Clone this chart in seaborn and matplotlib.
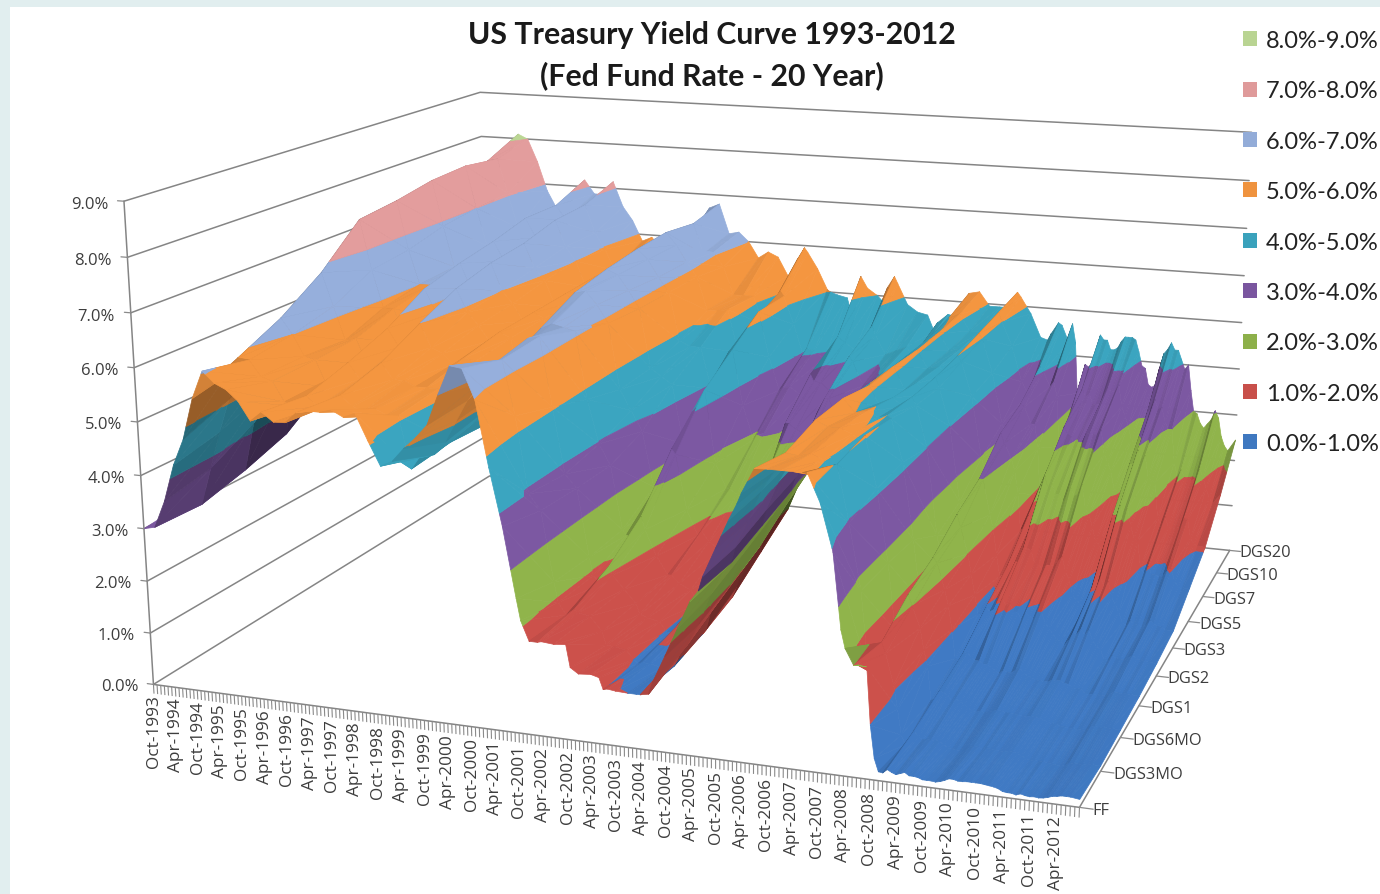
import numpy as np
import pandas as pd
import matplotlib
matplotlib.use("Agg")
import matplotlib.pyplot as plt
from matplotlib.patches import Patch, Rectangle
from mpl_toolkits.mplot3d.art3d import Poly3DCollection, Line3DCollection
import seaborn as sns

# Treasury curve by maturity, sampled quarterly from Oct-1993 (percent)
maturities = ["FF", "DGS3MO", "DGS6MO", "DGS1", "DGS2", "DGS3", "DGS5", "DGS7", "DGS10", "DGS20"]
months_since_start = list(range(0, 226, 3)) + [227]

FF = [3.00, 3.05,3.56,4.26,4.76, 5.53,6.05,5.85,5.75, 5.56,5.22,5.40,5.24, 5.25,5.45,5.50,5.50,
      5.56,5.45,5.54,5.07, 4.63,4.74,4.99,5.20, 5.45,6.02,6.54,6.51, 5.98,4.80,3.77,2.49,
      1.73,1.75,1.73,1.75, 1.24,1.26,1.01,1.01, 1.00,1.00,1.26,1.76, 2.28,2.79,3.26,3.78,
      4.29,4.79,5.24,5.25, 5.25,5.25,5.26,4.76, 3.94,2.28,2.01,0.97, 0.15,0.15,0.16,0.12,
      0.11,0.20,0.18,0.19, 0.17,0.10,0.07,0.07, 0.08,0.14,0.16,0.14]
DGS3MO = [3.10, 3.02,3.74,4.46,5.10, 5.90,5.88,5.59,5.52, 5.15,5.09,5.30,5.12, 5.17,5.37,5.19,5.11,
          5.18,5.08,5.09,4.12, 4.45,4.43,4.69,5.10, 5.50,5.82,6.14,6.29, 5.29,3.88,3.59,2.28,
          1.68,1.75,1.71,1.45, 1.19,1.15,0.92,0.95, 0.90,0.96,1.36,1.79, 2.37,2.84,3.29,3.79,
          4.34,4.72,5.08,5.05, 5.11,5.01,4.96,3.94, 2.75,1.29,1.66,0.67, 0.13,0.16,0.18,0.07,
          0.06,0.16,0.16,0.13, 0.15,0.06,0.04,0.02, 0.03,0.08,0.10,0.10]
DGS6MO = [3.20, 3.25,4.20,4.80,5.45, 6.30,6.00,5.60,5.55, 5.05,5.30,5.55,5.25, 5.25,5.60,5.30,5.30,
          5.20,5.20,5.20,4.20, 4.50,4.60,4.85,5.20, 5.75,6.00,6.30,6.35, 5.05,3.80,3.55,2.25,
          1.75,1.95,1.70,1.45, 1.20,1.15,0.95,1.05, 1.00,1.10,1.65,2.00, 2.60,3.05,3.50,4.05,
          4.45,4.85,5.25,5.15, 5.15,5.05,5.05,4.10, 2.75,1.55,2.00,1.20, 0.30,0.40,0.30,0.16,
          0.15,0.23,0.20,0.18, 0.18,0.12,0.08,0.06, 0.06,0.14,0.15,0.14]
DGS1 = [3.40, 3.55,4.90,5.30,5.90, 6.85,6.20,5.55,5.60, 5.10,5.60,5.85,5.50, 5.60,6.00,5.55,5.45,
        5.25,5.40,5.35,4.15, 4.50,4.70,5.05,5.50, 6.10,6.20,6.15,6.10, 4.80,3.95,3.55,2.30,
        2.15,2.35,1.85,1.50, 1.35,1.25,1.05,1.30, 1.25,1.40,2.10,2.25, 2.85,3.30,3.65,4.30,
        4.45,4.90,5.25,5.00, 5.05,4.95,4.95,4.15, 2.70,1.75,2.30,1.50, 0.45,0.55,0.45,0.35,
        0.35,0.45,0.30,0.25, 0.30,0.25,0.20,0.12, 0.12,0.20,0.20,0.18]
DGS2 = [3.85, 4.14,5.23,6.10,6.60, 7.60,6.60,5.85,5.85, 5.20,6.05,6.30,5.85, 5.95,6.35,5.90,5.65,
        5.35,5.55,5.45,4.20, 4.60,4.90,5.50,5.90, 6.45,6.50,6.25,5.90, 4.60,4.20,3.80,2.70,
        3.00,3.40,2.30,1.80, 1.70,1.55,1.55,1.85, 1.75,2.10,2.75,2.65, 3.20,3.65,3.90,4.40,
        4.50,4.95,5.10,4.70, 4.90,4.75,4.80,4.00, 2.30,2.00,2.50,1.60, 0.80,0.95,1.05,0.95,
        0.90,1.00,0.60,0.40, 0.65,0.75,0.40,0.30, 0.25,0.30,0.25,0.25]
DGS3 = [4.30, 4.50,5.90,6.35,6.90, 7.70,6.70,6.00,6.00, 5.30,6.20,6.50,6.00, 6.10,6.55,6.00,5.75,
        5.40,5.60,5.50,4.20, 4.60,5.00,5.70,6.00, 6.60,6.50,6.20,5.85, 4.65,4.50,4.35,3.15,
        3.50,4.30,2.80,2.30, 2.20,2.10,2.10,2.30, 2.25,2.75,3.10,3.00, 3.40,3.80,4.00,4.45,
        4.45,4.90,5.10,4.65, 4.80,4.60,4.75,4.00, 2.50,2.50,3.00,2.00, 1.10,1.40,1.70,1.40,
        1.40,1.60,0.85,0.55, 1.00,1.20,0.60,0.45, 0.35,0.45,0.35,0.35]
DGS5 = [4.70, 5.10,6.40,6.90,7.40, 7.85,6.90,6.05,6.05, 5.35,6.30,6.65,6.25, 6.30,6.65,6.15,5.90,
        5.35,5.65,5.50,4.20, 4.60,5.20,5.80,6.05, 6.70,6.50,6.15,5.85, 4.85,4.75,4.75,3.90,
        4.35,4.75,3.60,2.90, 3.05,2.90,3.30,3.20, 3.10,3.60,3.90,3.45, 3.70,4.00,4.05,4.45,
        4.35,4.90,5.05,4.70, 4.75,4.60,4.90,4.20, 2.95,3.00,3.30,2.75, 1.60,1.90,2.45,2.35,
        2.50,2.60,1.75,1.20, 1.95,2.20,1.55,1.05, 0.85,1.05,0.65,0.70]
DGS7 = [5.00, 5.40,6.60,7.10,7.55, 7.90,7.00,6.20,6.20, 5.50,6.45,6.85,6.45, 6.45,6.85,6.30,6.00,
        5.45,5.70,5.55,4.50, 4.75,5.30,5.95,6.10, 6.75,6.50,6.15,5.85, 5.15,5.15,5.20,4.30,
        4.85,5.20,4.25,3.55, 3.65,3.50,3.95,3.80, 3.60,4.10,4.30,3.80, 3.95,4.15,4.10,4.50,
        4.35,4.90,5.05,4.70, 4.75,4.65,5.00,4.30, 3.25,3.35,3.65,3.30, 2.20,2.50,3.15,3.00,
        3.20,3.30,2.45,1.85, 2.65,2.85,2.30,1.60, 1.40,1.60,1.05,1.05]
DGS10 = [5.35, 5.75,7.05,7.30,7.75, 7.80,7.05,6.30,6.05, 5.65,6.50,6.85,6.55, 6.60,6.90,6.30,5.95,
         5.50,5.65,5.45,4.55, 4.70,5.20,5.80,6.10, 6.65,6.00,6.05,5.75, 5.15,5.15,5.15,4.55,
         5.05,5.20,4.60,3.90, 4.05,3.90,4.00,4.30, 4.15,4.35,4.50,4.10, 4.20,4.30,4.20,4.45,
         4.40,5.00,5.10,4.75, 4.75,4.70,5.00,4.50, 3.75,3.70,4.00,3.80, 2.50,2.90,3.55,3.40,
         3.75,3.85,3.00,2.55, 3.40,3.45,3.00,2.15, 1.95,2.05,1.50,1.70]
DGS20 = [6.00, 6.30,7.45,7.60,8.10, 8.00,7.50,6.85,6.45, 6.05,6.95,7.15,6.85, 6.85,7.15,6.60,6.30,
         5.85,5.95,5.70,5.30, 5.35,5.65,6.25,6.70, 6.80,6.15,6.20,6.00, 5.65,5.80,5.70,5.30,
         5.70,5.85,5.50,5.05, 4.95,4.90,5.05,5.15, 5.00,5.20,5.30,4.85, 4.70,4.65,4.50,4.70,
         4.65,5.20,5.25,4.95, 4.95,4.95,5.20,4.85, 4.35,4.45,4.65,4.70, 3.50,3.90,4.40,4.20,
         4.50,4.45,3.85,3.50, 4.30,4.30,4.00,2.95, 2.75,2.90,2.20,2.45]

# Month-end curves in between the quarterly samples, where yields moved sharply
extra_months = [97, 101, 109, 116, 118, 125, 128, 140, 149, 164, 173, 176, 179, 181, 182, 184, 185,
                187, 188, 190, 191, 193, 194, 196, 197, 199, 200, 202, 203, 205, 206, 208, 209,
                211, 212, 214, 215, 217, 218, 220, 221, 223, 224]
extra_curves = [
    [2.09, 1.90, 1.90, 2.20, 2.40, 2.80, 3.50, 4.00, 4.60, 5.30],
    [1.73, 1.80, 2.10, 2.60, 3.50, 4.10, 4.70, 5.00, 5.30, 5.95],
    [1.34, 1.20, 1.25, 1.50, 1.90, 2.30, 3.00, 3.60, 4.10, 5.00],
    [1.22, 0.99, 0.96, 1.00, 1.20, 1.50, 2.30, 2.90, 3.30, 4.40],
    [1.03, 0.95, 1.05, 1.25, 1.85, 2.40, 3.30, 3.80, 4.40, 5.40],
    [1.00, 0.95, 1.00, 1.20, 1.60, 2.00, 2.80, 3.40, 3.85, 4.85],
    [1.03, 1.30, 1.70, 2.10, 2.75, 3.20, 3.90, 4.40, 4.70, 5.45],
    [3.00, 3.00, 3.20, 3.40, 3.70, 3.75, 3.90, 4.00, 4.10, 4.30],
    [4.60, 4.60, 4.70, 4.80, 4.80, 4.80, 4.80, 4.80, 4.70, 4.90],
    [5.25, 4.70, 4.95, 5.00, 4.95, 4.95, 5.00, 5.10, 5.20, 5.30],
    [2.60, 1.30, 1.50, 1.55, 1.60, 1.85, 2.50, 2.90, 3.50, 4.30],
    [2.00, 1.85, 2.20, 2.40, 2.75, 3.00, 3.50, 3.70, 4.10, 4.70],
    [2.00, 1.10, 1.60, 1.80, 2.00, 2.30, 3.00, 3.30, 3.70, 4.30],
    [0.39, 0.20, 0.90, 1.05, 1.20, 1.50, 2.30, 2.80, 3.50, 4.30],
    [0.16, 0.03, 0.26, 0.49, 0.82, 1.07, 1.52, 1.80, 2.42, 3.18],
    [0.22, 0.30, 0.46, 0.62, 0.98, 1.30, 1.85, 2.40, 2.87, 3.83],
    [0.18, 0.21, 0.43, 0.64, 0.90, 1.20, 1.70, 2.30, 2.80, 3.78],
    [0.18, 0.18, 0.30, 0.50, 0.92, 1.40, 2.10, 2.75, 3.30, 4.20],
    [0.21, 0.17, 0.35, 0.50, 1.18, 1.70, 2.70, 3.30, 3.70, 4.50],
    [0.16, 0.17, 0.27, 0.44, 1.10, 1.65, 2.55, 3.10, 3.60, 4.40],
    [0.15, 0.12, 0.20, 0.40, 0.95, 1.40, 2.35, 2.95, 3.40, 4.20],
    [0.12, 0.05, 0.15, 0.30, 0.80, 1.30, 2.20, 3.00, 3.40, 4.25],
    [0.12, 0.05, 0.17, 0.37, 0.95, 1.40, 2.35, 3.20, 3.60, 4.40],
    [0.13, 0.10, 0.18, 0.35, 0.85, 1.40, 2.35, 3.20, 3.70, 4.50],
    [0.16, 0.15, 0.20, 0.40, 1.00, 1.50, 2.40, 3.20, 3.70, 4.50],
    [0.20, 0.16, 0.22, 0.37, 0.80, 1.30, 2.10, 2.80, 3.40, 4.20],
    [0.18, 0.12, 0.20, 0.32, 0.70, 1.15, 2.00, 2.65, 3.20, 3.90],
    [0.19, 0.15, 0.19, 0.25, 0.50, 0.75, 1.45, 2.10, 2.70, 3.50],
    [0.19, 0.15, 0.19, 0.26, 0.47, 0.70, 1.40, 2.05, 2.65, 3.45],
    [0.19, 0.14, 0.18, 0.25, 0.50, 0.75, 1.35, 2.00, 2.75, 3.90],
    [0.18, 0.14, 0.19, 0.30, 0.65, 1.05, 1.95, 2.65, 3.30, 4.20],
    [0.16, 0.13, 0.17, 0.30, 0.75, 1.25, 2.25, 2.95, 3.60, 4.45],
    [0.14, 0.10, 0.16, 0.26, 0.65, 1.10, 2.10, 2.75, 3.40, 4.30],
    [0.09, 0.04, 0.10, 0.20, 0.55, 0.90, 1.85, 2.40, 3.15, 4.10],
    [0.09, 0.04, 0.10, 0.18, 0.45, 0.75, 1.60, 2.35, 3.00, 3.90],
    [0.10, 0.05, 0.07, 0.11, 0.20, 0.40, 1.00, 1.55, 2.30, 3.45],
    [0.08, 0.02, 0.05, 0.10, 0.20, 0.35, 0.90, 1.45, 2.00, 3.00],
    [0.08, 0.01, 0.05, 0.10, 0.25, 0.40, 0.90, 1.40, 2.00, 2.75],
    [0.07, 0.01, 0.05, 0.12, 0.25, 0.40, 0.90, 1.35, 2.00, 2.65],
    [0.10, 0.08, 0.13, 0.17, 0.30, 0.40, 0.90, 1.40, 2.00, 2.85],
    [0.13, 0.08, 0.15, 0.20, 0.35, 0.50, 1.00, 1.60, 2.20, 3.05],
    [0.16, 0.09, 0.15, 0.19, 0.27, 0.40, 0.80, 1.20, 1.80, 2.50],
    [0.16, 0.09, 0.15, 0.20, 0.28, 0.40, 0.70, 1.10, 1.60, 2.30],
]

band_labels = ["0.0%-1.0%", "1.0%-2.0%", "2.0%-3.0%", "3.0%-4.0%", "4.0%-5.0%",
               "5.0%-6.0%", "6.0%-7.0%", "7.0%-8.0%", "8.0%-9.0%"]
band_hex = ["#3f78c0", "#c84f4a", "#8db04a", "#7a569f", "#3aa2bc",
            "#ef933f", "#93acd8", "#df9a9a", "#b9d492"]
date_labels = pd.date_range("1993-10-01", periods=38, freq="6MS").strftime("%b-%Y").tolist()
z_labels = [f"{v:.1f}%" for v in range(10)]

W, H = 1380, 895
sns.set_theme(style="white", font="Open Sans")
palette = sns.color_palette(band_hex)

fig = plt.figure(figsize=(W / 100, H / 100), dpi=100, facecolor="#e1eeef")
fig.add_artist(Rectangle((10 / W, 0), 1, 1 - 8 / H, transform=fig.transFigure,
                         facecolor="white", edgecolor="none", zorder=-1))

# A square 3D axes reaching past the top and bottom of the figure, so one unit
# on the screen is the same in both directions.
pad = (W - H) / 2
ax = fig.add_axes([0, -pad / H, 1, W / H], projection="3d", computed_zorder=False)
ax.set_proj_type("ortho")
ax.set_axis_off()
ax.patch.set_visible(False)

quarterly = np.array([FF, DGS3MO, DGS6MO, DGS1, DGS2, DGS3, DGS5, DGS7, DGS10, DGS20]).T
all_months = np.array(months_since_start + extra_months, dtype=float)
by_date = np.argsort(all_months)
x = all_months[by_date]
Z = np.vstack([quarterly, np.array(extra_curves)])[by_date]
y = np.arange(len(maturities), dtype=float)
x_max, y_max, z_max = x[-1], y[-1], 9.0

# Perspective camera solved from where the corners of the plot box should land.
box_corners = [(0, 0, 0), (1, 0, 0), (1, 1, 0), (0, 1, 0), (0, 0, 1), (0, 1, 1), (1, 1, 1)]
box_pixels = [(152, 685), (1080, 808), (1229, 552), (491, 477), (125, 203), (479, 93), (1252, 133)]
rows = []
for (a, b, c), (u, v) in zip(box_corners, box_pixels):
    u, v = u / 1000, v / 1000
    rows.append([a, b, c, 1, 0, 0, 0, 0, -u * a, -u * b, -u * c, -u])
    rows.append([0, 0, 0, 0, a, b, c, 1, -v * a, -v * b, -v * c, -v])
cam = np.linalg.svd(np.array(rows))[2][-1].reshape(3, 4)
cam[:2] *= 1000
eye = np.linalg.svd(cam)[2][-1]
eye_xy = eye[:2] / eye[3] * [x_max, y_max]
to_unit = np.diag([1 / x_max, 1 / y_max, 1 / z_max, 1])
pixel_proj = np.vstack([cam[0], cam[1], eye, cam[2]]) @ to_unit


def camera_matrix():
    """Data to view coordinates: pixels rescaled to the axes' current view limits."""
    x0, x1 = ax.viewLim.intervalx
    y0, y1 = ax.viewLim.intervaly
    fit = np.array([[(x1 - x0) / W, 0, 0, x0],
                    [0, (y0 - y1) / W, 0, y1 + pad * (y0 - y1) / W],
                    [0, 0, 1, 0],
                    [0, 0, 0, 1]])
    return fit @ pixel_proj


ax.get_proj = camera_matrix


def to_fig(px, py, pz, dy=0):
    """Figure-fraction position of a data point, optionally nudged down by dy pixels."""
    vec = pixel_proj @ np.array([px, py, pz, 1.0])
    return vec[0] / vec[3] / W, 1 - (vec[1] / vec[3] + dy) / H


def clip_to_band(poly, lo, hi):
    """Clip a 3D polygon to the slab lo <= z <= hi."""
    for limit, sign in ((lo, 1), (hi, -1)):
        kept = []
        for k, p in enumerate(poly):
            q = poly[(k + 1) % len(poly)]
            dp, dq = sign * (p[2] - limit), sign * (q[2] - limit)
            if dp >= 0:
                kept.append(p)
            if dp * dq < 0:
                t = dp / (dp - dq)
                kept.append(tuple(p[n] + t * (q[n] - p[n]) for n in range(3)))
        poly = kept
        if len(poly) < 3:
            return []
    return poly


# Walls: percent gridlines run along the left side and across the back.
grid_col = "#858585"
for level in range(10):
    ax.plot([0, 0, x_max], [0, y_max, y_max], [level, level, level], color=grid_col, lw=1.1, zorder=1)
ax.plot([0, 0], [0, 0], [0, z_max], color=grid_col, lw=1.1, zorder=1)
ax.plot([0, x_max, x_max], [0, 0, y_max], [0, 0, 0], color=grid_col, lw=1.1, zorder=1)

# Surface cells painted far to near, each split into colour bands; cells that
# climb with time turn away from the light and come out darker.
i_order = np.argsort(-np.abs((x[:-1] + x[1:]) / 2 - eye_xy[0]))
j_order = np.argsort(-np.abs((y[:-1] + y[1:]) / 2 - eye_xy[1]))
zo = 2
for j in j_order:
    for i in i_order:
        a = (x[i], y[j], Z[i, j])
        b = (x[i + 1], y[j], Z[i + 1, j])
        c = (x[i + 1], y[j + 1], Z[i + 1, j + 1])
        d = (x[i], y[j + 1], Z[i, j + 1])
        slope = ((b[2] + c[2]) - (a[2] + d[2])) / 2 / (x[i + 1] - x[i])
        shade = float(np.clip(1.0 - 1.4 * slope, 0.45, 1.02))
        polys, cols = [], []
        for tri in ((a, b, c), (a, c, d)):
            for band in range(9):
                piece = clip_to_band(list(tri), band, band + 1)
                if piece:
                    polys.append(piece)
                    cols.append(tuple(min(1.0, v * shade) for v in palette[band]))
        coll = Poly3DCollection(polys, facecolors=cols, edgecolors=cols, linewidths=0.5, zorder=zo)
        ax.add_collection3d(coll, autolim=False)
        zo += 1

# Axis ticks and labels on the front, right and left edges.
tick_col = "#8a8a8a"
text_col = "#3d3d3d"
month_ticks = [[(m, 0, 0), (m, 0, -0.18)] for m in range(int(x_max) + 1)]
ax.add_collection3d(Line3DCollection(month_ticks, colors=tick_col, linewidths=0.8, zorder=zo), autolim=False)
for k, lab in enumerate(date_labels):
    fx, fy = to_fig(6 * k, 0, -0.2)
    fig.text(fx, fy, lab, rotation=90, ha="center", va="top", fontsize=12.4, color=text_col)
for j, lab in enumerate(maturities):
    ax.plot([x_max, x_max + 3], [j, j], [0, 0], color=tick_col, lw=0.9, zorder=zo)
    fx, fy = to_fig(x_max + 2.8, j, 0, dy=1)
    fig.text(fx, fy, lab, ha="left", va="center", fontsize=11.8, color=text_col)
for level, lab in enumerate(z_labels):
    ax.plot([-1.7, 0], [0, 0], [level, level], color=tick_col, lw=0.9, zorder=zo)
    fx, fy = to_fig(-4.2, 0, level, dy=4)
    fig.text(fx, fy, lab, ha="right", va="center", fontsize=12, color=text_col)

fig.text(712 / W, 1 - 55.5 / H, "US Treasury Yield Curve 1993-2012\n(Fed Fund Rate - 20 Year)",
         ha="center", va="center", family="Lato", weight="bold", fontsize=21.8,
         linespacing=1.54, color="#1a1a1a")

handles = [Patch(facecolor=palette[k], edgecolor="none", label=band_labels[k]) for k in range(8, -1, -1)]
fig.legend(handles=handles, loc="upper left", bbox_to_anchor=(1243 / W, 1 - 31 / H),
           frameon=False, prop={"family": "Lato", "size": 17}, labelcolor="#222222",
           borderpad=0, borderaxespad=0, labelspacing=1.245,
           handlelength=0.6, handleheight=0.6, handletextpad=0.38)

fig.savefig("out.png", dpi=100, facecolor=fig.get_facecolor())
